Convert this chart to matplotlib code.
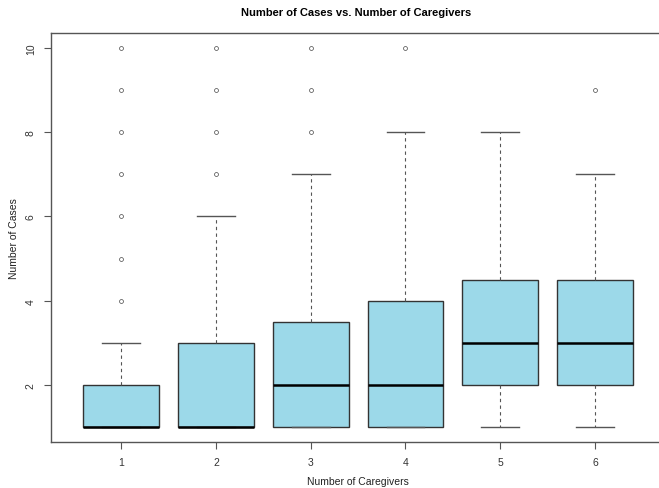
import matplotlib.pyplot as plt

plt.rcParams["font.family"] = ["Liberation Sans", "DejaVu Sans"]

# box summary per number of caregivers
caregivers = [1, 2, 3, 4, 5, 6]
lower_whisker = [1, 1, 1, 1, 1, 1]
q1 = [1, 1, 1, 1, 2, 2]
median = [1, 1, 2, 2, 3, 3]
q3 = [2, 3, 3.5, 4, 4.5, 4.5]
upper_whisker = [3, 6, 7, 8, 8, 7]
outliers = [
    [4, 5, 6, 7, 8, 9, 10],
    [7, 8, 9, 10],
    [8, 9, 10],
    [10],
    [],
    [9],
]

stats = []
for i in range(len(caregivers)):
    stats.append({
        "whislo": lower_whisker[i],
        "q1": q1[i],
        "med": median[i],
        "q3": q3[i],
        "whishi": upper_whisker[i],
        "fliers": outliers[i],
    })

fig = plt.figure(figsize=(6.59, 4.89), dpi=100)
ax = fig.add_axes([0.0774, 0.094, 0.932, 0.8364])

ax.bxp(
    stats,
    positions=caregivers,
    widths=0.8,
    patch_artist=True,
    boxprops=dict(facecolor="#9CD9E9", edgecolor="#333333", linewidth=1),
    medianprops=dict(color="black", linewidth=1.8),
    whiskerprops=dict(color="#555555", linestyle=(0, (3, 3)), linewidth=0.8),
    capprops=dict(color="#555555", linewidth=1),
    capwidths=0.4,
    flierprops=dict(marker="o", markersize=2.8, markerfacecolor="none",
                    markeredgecolor="#444444", markeredgewidth=0.5),
)

ax.set_xlim(0.26, 6.74)
ax.set_ylim(0.64, 10.36)
ax.set_yticks([2, 4, 6, 8, 10])
ax.set_xticks(caregivers)
ax.set_xticklabels([str(c) for c in caregivers])
ax.tick_params(axis="both", labelsize=7.5, colors="#555555", length=5,
               labelcolor="#333333", pad=6)
for lbl in ax.get_yticklabels():
    lbl.set_rotation(90)
    lbl.set_va("center")

for spine in ax.spines.values():
    spine.set_color("#555555")
    spine.set_linewidth(1)

fig.text(356 / 659, 1 - 13 / 489, "Number of Cases vs. Number of Caregivers",
         fontsize=8, fontweight="bold", ha="center", va="center")
fig.text(358 / 659, 1 - 482 / 489, "Number of Caregivers", fontsize=7.5,
         ha="center", va="center", color="#222222")
fig.text(14 / 659, 1 - 239 / 489, "Number of Cases", fontsize=7.5,
         rotation=90, ha="center", va="center", color="#222222")

fig.savefig("out.png", dpi=100)
